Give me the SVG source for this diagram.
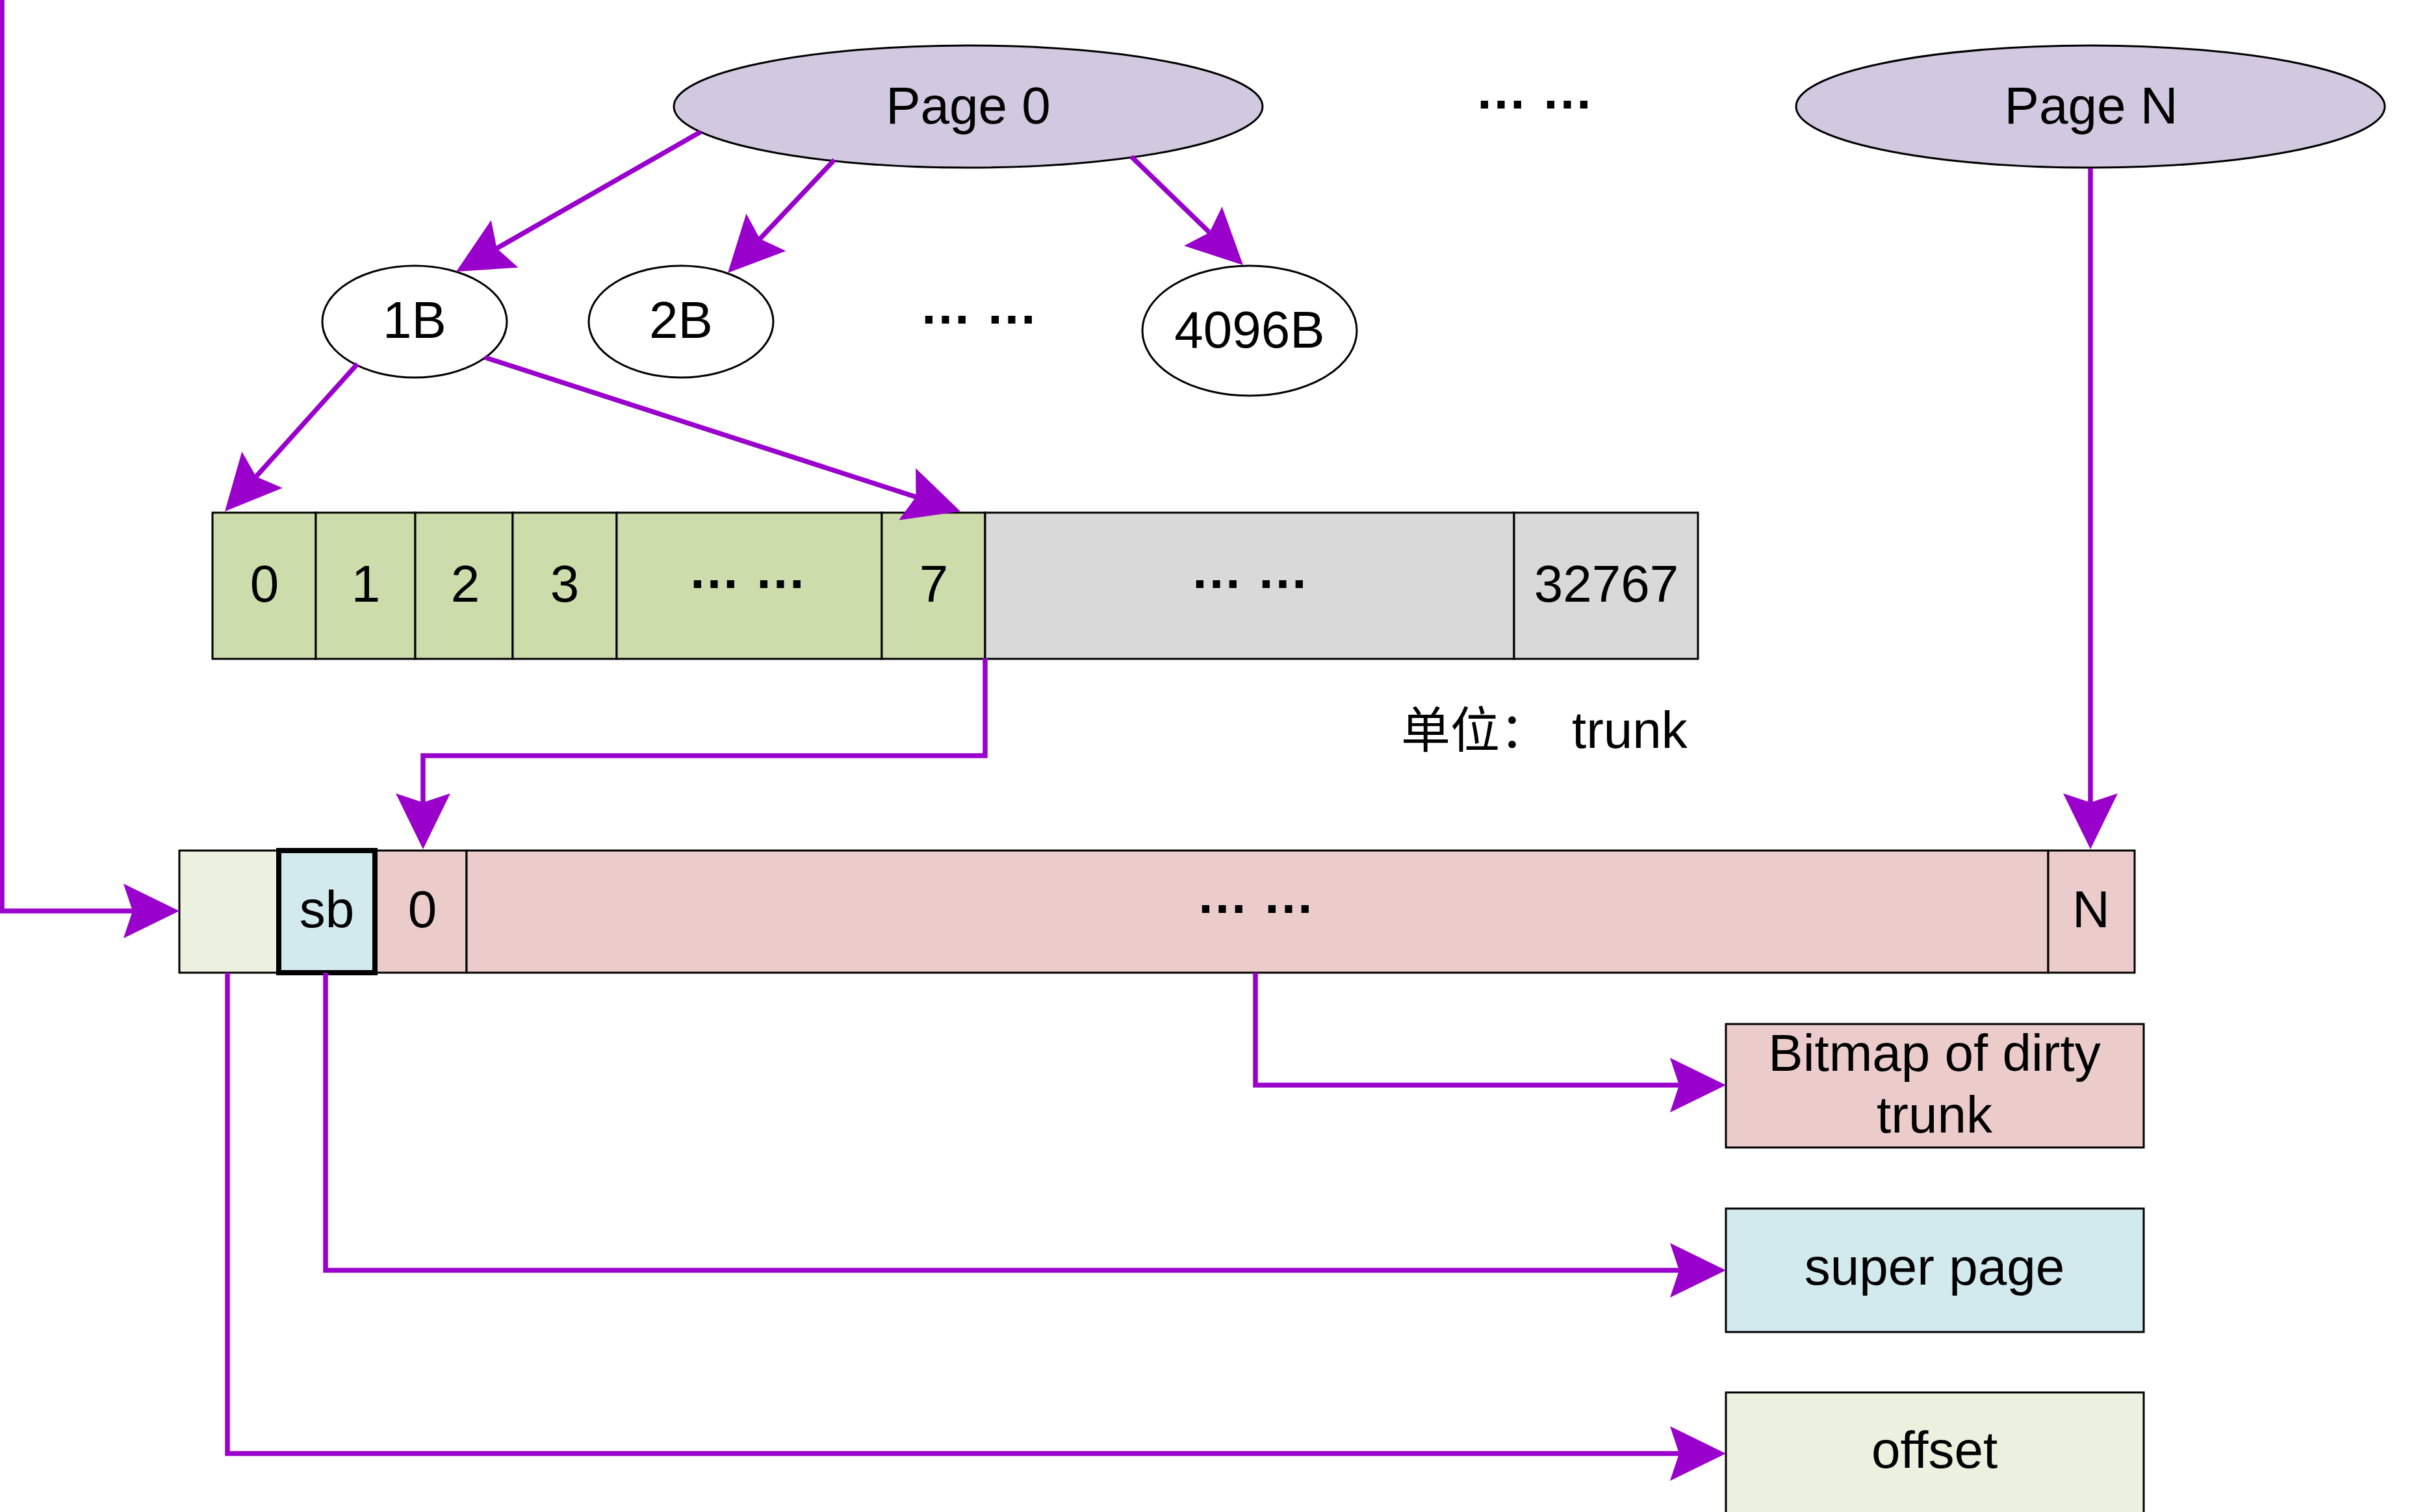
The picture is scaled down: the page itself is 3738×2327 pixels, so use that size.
<svg xmlns="http://www.w3.org/2000/svg" width="3738" height="2327" viewBox="0 0 3738 2327">
<defs>
<style>
text{font-family:"Liberation Sans",Arial,sans-serif;font-size:80px;fill:#000;text-anchor:middle}
.dots{font-weight:bold}
.ell{stroke:#000;stroke-width:3}
.page{fill:#D2C9E0}
.byte{fill:#fff}
.cell{stroke:#000;stroke-width:3}
.g{fill:#CDDCAB}
.gr{fill:#D9D9D9}
.pk{fill:#EBCCCB}
.bl{fill:#D2E9EE}
.of{fill:#EBF0DF}
.con{fill:none;stroke:#9900CC;stroke-width:7.5;marker-end:url(#ah)}
</style>
<marker id="ah" markerUnits="userSpaceOnUse" viewBox="0 0 90 90" markerWidth="90" markerHeight="90" refX="80" refY="45" orient="auto">
<path d="M2,3 L88,45 L2,87 L16,45 Z" fill="#9900CC"/>
</marker>
</defs>
<rect width="3738" height="2327" fill="#fff"/>

<g id="page0"><ellipse class="ell page" cx="1490" cy="164" rx="453" ry="94"/><text x="1490" y="190">Page 0</text></g>
<g id="pageN"><ellipse class="ell page" cx="3217" cy="164" rx="453" ry="94"/><text x="3218" y="190">Page N</text></g>
<g id="dots-pages"><text class="dots" x="2361" y="167">… …</text></g>

<g id="b1"><ellipse class="ell byte" cx="638" cy="495" rx="142" ry="86"/><text x="638" y="520">1B</text></g>
<g id="b2"><ellipse class="ell byte" cx="1048" cy="495" rx="142" ry="86"/><text x="1048" y="520">2B</text></g>
<g id="dots-bytes"><text class="dots" x="1506" y="498">… …</text></g>
<g id="b4096"><ellipse class="ell byte" cx="1923" cy="509" rx="165" ry="100"/><text x="1923" y="535">4096B</text></g>

<g id="trunks">
<rect class="cell g" x="327" y="789" width="159" height="225"/>
<rect class="cell g" x="486" y="789" width="153" height="225"/>
<rect class="cell g" x="639" y="789" width="150" height="225"/>
<rect class="cell g" x="789" y="789" width="160" height="225"/>
<rect class="cell g" x="949" y="789" width="408" height="225"/>
<rect class="cell g" x="1357" y="789" width="159" height="225"/>
<rect class="cell gr" x="1516" y="789" width="814" height="225"/>
<rect class="cell gr" x="2330" y="789" width="283" height="225"/>
<text x="407" y="926">0</text>
<text x="563" y="926">1</text>
<text x="716" y="926">2</text>
<text x="869" y="926">3</text>
<text class="dots" x="1150" y="905">… …</text>
<text x="1437" y="926">7</text>
<text class="dots" x="1923" y="905">… …</text>
<text x="2472" y="926">32767</text>
</g>
<g id="unit"><text x="2156" y="1151" style="text-anchor:start;font-family:'Noto Sans CJK SC','Liberation Sans',sans-serif;font-size:76px">单位：</text><text x="2419" y="1151" style="text-anchor:start">trunk</text></g>

<g id="mapbar">
<rect class="cell of" x="276" y="1309" width="151" height="188"/>
<rect class="cell pk" x="579" y="1309" width="139" height="188"/>
<rect class="cell pk" x="718" y="1309" width="2434" height="188"/>
<rect class="cell pk" x="3152" y="1309" width="133" height="188"/>
<rect x="429" y="1309" width="148" height="188" fill="#D2E9EE" stroke="#000" stroke-width="8"/>
<text x="503" y="1427">sb</text>
<text x="650" y="1427">0</text>
<text class="dots" x="1932" y="1405">… …</text>
<text x="3218" y="1427">N</text>
</g>

<g id="bitmap"><rect class="cell pk" x="2656" y="1576" width="643" height="190"/><text x="2977" y="1648">Bitmap of dirty</text><text x="2977" y="1743">trunk</text></g>
<g id="superpage"><rect class="cell bl" x="2656" y="1860" width="643" height="190"/><text x="2977" y="1977">super page</text></g>
<g id="offset"><rect class="cell of" x="2656" y="2143" width="643" height="200"/><text x="2977" y="2259">offset</text></g>

<g id="connectors">
<path class="con" d="M3,0 V1402 H268"/>
<path class="con" d="M1078,203 L709,414"/>
<path class="con" d="M1284,246 L1125.5,414.2"/>
<path class="con" d="M1741,241 L1907.3,402.4"/>
<path class="con" d="M550,560 L351.4,781"/>
<path class="con" d="M746,550 L1470.4,784.5"/>
<path class="con" d="M1516,1013 V1163 H651 V1299"/>
<path class="con" d="M3217,259 V1299"/>
<path class="con" d="M1932,1497 V1670 H2648"/>
<path class="con" d="M501,1497 V1955 H2648"/>
<path class="con" d="M350,1497 V2237 H2648"/>
</g>
</svg>
